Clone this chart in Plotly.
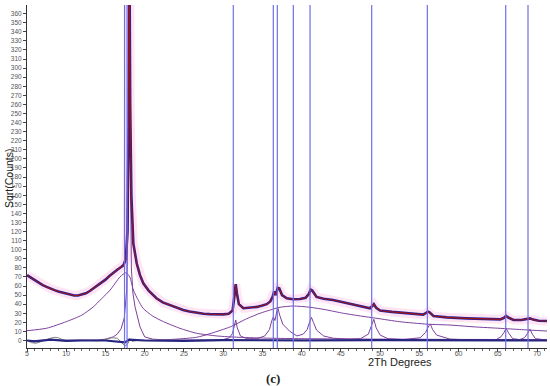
import plotly.graph_objects as go

# ---------------- data ----------------
# observed / calculated profile (sqrt counts)
profile_x = [5.0, 5.5, 6, 6.5, 7, 7.5, 8, 8.5, 9, 9.5, 10, 10.5, 11, 11.5, 12, 12.5, 13, 13.5, 14, 14.5,
             15, 15.5, 16, 16.5, 17, 17.3, 17.6, 17.8, 17.95, 18.05, 18.15, 18.3, 18.55, 18.98, 19.4, 19.82,
             20.5, 21.5, 22.3, 23.2, 24, 24.9, 25.7, 26.6, 27.5, 28.3, 29.2, 30, 30.7, 31.2, 31.45, 31.6,
             31.75, 32, 32.57, 33.4, 34.3, 35.0, 35.55, 36.0, 36.3, 36.5, 36.7, 36.95, 37.15, 37.5, 38.1,
             38.9, 39.8, 40.5, 40.9, 41.15, 41.35, 41.9, 42.8, 44.0, 45.3, 46.6, 47.7, 48.7, 49.0, 49.2,
             49.5, 50.0, 51.5, 53.4, 55.5, 56.1, 56.3, 56.8, 58.5, 61.0, 63.2, 65.3, 65.8, 66.05, 66.4,
             67.0, 68.0, 68.8, 69.1, 69.5, 70.2, 71.3]
profile_y = [72, 69, 66, 63, 61, 59, 57, 55.5, 54, 53, 52, 50.5, 49.5, 49.5, 50.5, 52, 54.5, 57.5, 61, 64,
             67, 71, 75, 78, 81, 83, 90, 120, 240, 440, 260, 160, 107, 85, 72, 63,
             55, 46.5, 42, 39, 36, 33.6, 32, 30.6, 29.5, 29, 28.8, 28.8, 29.5, 33, 50, 62,
             52, 40, 35.5, 36, 37, 38.5, 40, 43, 48, 54, 50, 58, 57.5, 50, 46.5,
             45.5, 45.7, 47, 51, 56, 55, 48, 46, 44.6, 42, 40, 37.5, 35.5, 38, 40,
             36, 33, 31.5, 30, 28.5, 31.7, 31, 27, 25.5, 24.4, 23.8, 23.3, 25, 27, 25,
             22.6, 22.6, 23.5, 24.4, 23, 21.8, 21.5]

# amorphous hump near 17.6
hump1_x = [5, 7.5, 10, 12, 13.45, 14.5, 15.6, 16.85, 17.6, 18.1, 18.55, 19.2, 19.8, 21, 22.4, 24.5,
           26.6, 29.2, 32, 36, 40, 50, 60, 71.3]
hump1_y = [10.8, 13.5, 20.7, 28, 37, 46, 55.6, 70, 74.7, 70, 55.6, 44, 35.4, 27, 20.7, 13.4,
           8, 5, 3.5, 2.5, 2, 1.5, 1.2, 1]

# sharp main peak component
main_x = [5, 14, 15, 16, 16.5, 17, 17.4, 17.7, 17.9, 18.0, 18.1, 18.2, 18.3, 18.5, 18.77, 19.4, 20.0,
          21, 23, 71.3]
main_y = [0, 0.5, 1.5, 4, 7, 13, 25, 55, 140, 300, 420, 180, 80, 52, 37, 15, 4, 1.5, 0.5, 0]

# broad hump near 39
hump2_x = [20, 22, 24, 26.6, 28.5, 30.9, 33, 34.7, 36, 37.25, 38.9, 41.07, 43, 45.3, 47.5, 49.6,
           52.5, 56, 58.9, 62, 65.3, 68, 71.3]
hump2_y = [0, 0.5, 1.5, 3.5, 8, 15, 24, 30, 33.6, 36.6, 38, 36.6, 34, 30, 27, 24.4,
           20.7, 18, 17, 15, 13.4, 12, 10.4]

# crystalline phase peaks near the baseline
phase_x = [29, 30, 30.8, 31.2, 31.45, 31.6, 31.8, 32.2, 33, 34.3, 35.3, 35.9, 36.2, 36.4, 36.6, 36.8,
           36.95, 37.2, 37.6, 38.5, 39.4, 40.2, 40.7, 41.0, 41.25, 41.5, 41.9, 42.8, 44, 46,
           47.5, 48.5, 48.9, 49.2, 49.5, 50.0, 51, 53, 55.1, 55.8, 56.2, 56.4, 56.7, 57.2, 58.9, 62,
           64.8, 65.4, 65.8, 66.05, 66.4, 66.9, 67.8, 68.4, 68.8, 69.1, 69.4, 69.8, 71.3]
phase_y = [0, 1, 3, 8, 17, 22.6, 14, 5, 2, 2, 5, 12, 22, 26, 22, 30,
           36.6, 28, 18, 10, 5, 7, 12, 20, 25.5, 20, 11.5, 5, 2.5, 1.5,
           2, 7, 16, 23.3, 14, 6, 2, 1, 3, 9, 16, 18, 12, 6, 1.5, 0.5,
           1, 4, 9, 13.4, 8, 2, 1, 3, 8, 12.3, 7, 2, 0.5]

# difference curves near zero
diff_x = [5, 5.6, 6.2, 6.8, 7.5, 8, 8.5, 9, 9.5, 10, 12, 14, 15, 15.8, 16.5, 17.0, 17.5, 17.9, 18.1,
          18.4, 19, 21, 25, 30, 40, 50, 60, 71.3]
diff_y = [0, -2.5, -3, -1, 0.5, 2.5, 3.5, 3, 1, 0, 0.3, -0.3, 1, 3, 2.5, -2, -6, -3, 2,
          -1, 0, 0.5, 0, 0.5, 0, 0.3, 0, 0]
resid_x = [5, 6, 8, 10, 12, 15, 17.5, 18, 20, 25, 30, 40, 50, 60, 71.3]
resid_y = [0, -1, 1, -0.5, 0, 0, -2, 1, 0, -0.5, 0.5, 0, 0.5, 0, 0]

# reflection (tick) positions
reflections = [17.43, 17.75, 31.29, 36.39, 36.90, 38.94, 41.07, 48.93, 56.02, 66.01, 68.85]

x_ticks = [5, 10, 15, 20, 25, 30, 35, 40, 45, 50, 55, 60, 65, 70]
y_ticks = list(range(0, 361, 10))

# ---------------- figure ----------------
PURPLE = "#7d3f9e"
fig = go.Figure()

for xv in reflections:
    fig.add_shape(type="line", x0=xv, x1=xv, xref="x", y0=0, y1=1, yref="paper",
                  line=dict(color="#6f6fe6", width=1.2), layer="above")

fig.add_trace(go.Scatter(x=profile_x, y=profile_y, mode="lines",
                         line=dict(color="rgba(255,170,215,0.3)", width=9), hoverinfo="skip"))
fig.add_trace(go.Scatter(x=hump1_x, y=hump1_y, mode="lines", line=dict(color=PURPLE, width=1, shape="spline", smoothing=0.6)))
fig.add_trace(go.Scatter(x=hump2_x, y=hump2_y, mode="lines", line=dict(color=PURPLE, width=1, shape="spline", smoothing=0.6)))
fig.add_trace(go.Scatter(x=main_x, y=main_y, mode="lines", line=dict(color=PURPLE, width=1)))
fig.add_trace(go.Scatter(x=phase_x, y=phase_y, mode="lines", line=dict(color=PURPLE, width=1)))
fig.add_trace(go.Scatter(x=diff_x, y=diff_y, mode="lines", line=dict(color="#808080", width=1)))
fig.add_trace(go.Scatter(x=resid_x, y=resid_y, mode="lines", line=dict(color="#262680", width=2.2)))
fig.add_trace(go.Scatter(x=profile_x, y=profile_y, mode="lines", line=dict(color="#2222a0", width=2.6)))
fig.add_trace(go.Scatter(x=profile_x, y=profile_y, mode="lines", line=dict(color="#a01414", width=1.1)))

axis_font = dict(family="Arial, Liberation Sans, sans-serif", size=7, color="#555555")
fig.update_layout(
    width=550, height=386,
    margin=dict(l=27, r=3, t=5, b=38),
    paper_bgcolor="white", plot_bgcolor="white",
    showlegend=False,
    xaxis=dict(range=[5, 71.27], tickvals=x_ticks, ticks="outside", ticklen=3, tickcolor="#444",
               tickfont=axis_font, showline=True, linecolor="#333", linewidth=1,
               showgrid=False, zeroline=False, automargin=False, ticklabelstandoff=-4,
               minor=dict(dtick=1, tick0=5, ticks="outside", ticklen=2, tickcolor="#666")),
    yaxis=dict(range=[-8.26, 369.5], tickvals=y_ticks, ticks="outside", ticklen=3, tickcolor="#444",
               tickfont=dict(family="Arial, Liberation Sans, sans-serif", size=6.5, color="#555555"),
               showline=True, linecolor="#333", linewidth=1, showgrid=False, zeroline=False,
               automargin=False),
    annotations=[
        dict(text="Sqrt(Counts)", xref="paper", yref="paper", x=-0.0346, y=0.4956, showarrow=False,
             xanchor="center", yanchor="middle",
             textangle=-90, font=dict(family="Arial, Liberation Sans, sans-serif", size=10.5, color="#222")),
        dict(text="2Th Degrees", xref="paper", yref="paper", x=0.717, y=-0.0408, showarrow=False,
             xanchor="center", yanchor="middle",
             font=dict(family="Arial, Liberation Sans, sans-serif", size=11, color="#222")),
        dict(text="<b>(c)</b>", xref="paper", yref="paper", x=0.473, y=-0.0875, showarrow=False,
             xanchor="center", yanchor="middle",
             font=dict(family="Liberation Serif, serif", size=13, color="#222")),
    ],
)

fig.write_html("out.html", post_script="document.body.style.margin='0';",
               config={"displayModeBar": False})
